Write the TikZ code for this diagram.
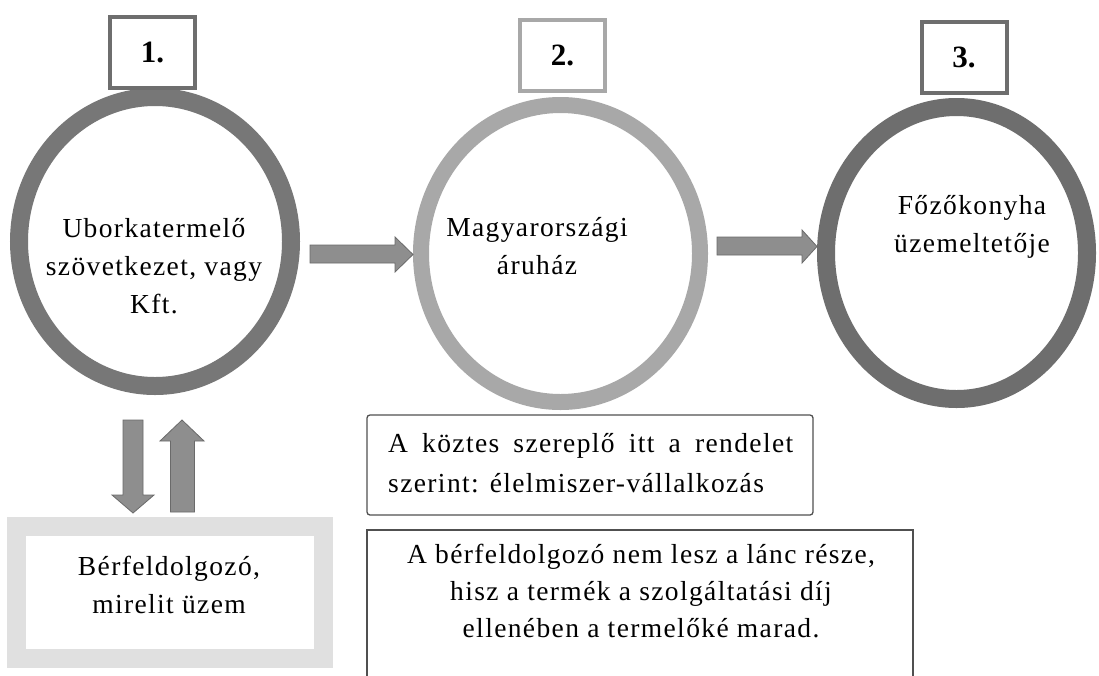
\documentclass[tikz,border=0pt]{standalone}
\usepackage{fontspec}
\setmainfont[LetterSpace=5.0]{Liberation Serif}
\newfontfamily\numfont{Liberation Serif}
\usetikzlibrary{shapes.geometric}
\definecolor{ringA}{HTML}{777777}
\definecolor{ringB}{HTML}{A8A8A8}
\definecolor{ringC}{HTML}{6E6E6E}
\definecolor{arrowfill}{HTML}{8E8E8E}
\definecolor{arrowline}{HTML}{6A6A6A}
\definecolor{lightframe}{HTML}{E0E0E0}
\definecolor{thinline}{HTML}{505050}
\begin{document}
\begin{tikzpicture}[x=1pt,y=-1pt,
  ring/.style={ellipse,draw,inner sep=0pt,outer sep=0pt},
  numbox/.style={draw,line width=4pt,fill=white,minimum width=85pt,minimum height=71pt,inner sep=0pt,font=\numfont\fontsize{31}{36}\selectfont\bfseries},
  txt/.style={align=center,inner sep=0pt,font=\fontsize{27.5}{38}\selectfont},
  blockarrow/.style={fill=arrowfill,draw=arrowline,line width=0.8pt,line join=miter}]
\useasboundingbox (0,0) rectangle (1099,675);
\fill[white] (0,0) rectangle (1099,675);
% rings
\node[ring,draw=ringA,line width=18pt,minimum width=272pt,minimum height=289pt] (c1) at (155,241.5) {};
\node[ring,draw=ringB,line width=16pt,minimum width=279pt,minimum height=297pt] (c2) at (560.5,253.5) {};
\node[ring,draw=ringC,line width=18pt,minimum width=261pt,minimum height=292pt] (c3) at (956.5,253) {};
% number boxes
\node[numbox,draw=ringC] (n1) at (152.5,52.5) {1.};
\node[numbox,draw=ringB] (n2) at (562.5,55) {2.};
\node[numbox,draw=ringC] (n3) at (964,57.5) {3.};
% ring texts
\node[txt] (t1) at (154,266) {Uborkatermelő\\szövetkezet, vagy\\Kft.};
\node[txt] (t2) at (537,246) {Magyarországi\\áruház};
\node[txt] (t3) at (972,227) {Főzőkonyha\\üzemeltetője};
% horizontal arrows
\coordinate (a1s) at (310,254);
\coordinate (a1e) at (413,254.5);
\draw[blockarrow] ([yshift=9pt]a1s) -- (395,245) -- (395,237) -- (a1e) -- (395,272) -- (395,263) -- ([yshift=-9pt]a1s) -- cycle;
\coordinate (a2s) at (717,246);
\coordinate (a2e) at (817,246.5);
\draw[blockarrow] ([yshift=9pt]a2s) -- (802,237) -- (802,230) -- (a2e) -- (802,263) -- (802,255) -- ([yshift=-9pt]a2s) -- cycle;
% vertical arrows
\coordinate (d1s) at (133,420);
\coordinate (d1e) at (133,513);
\draw[blockarrow] ([xshift=-10pt]d1s) -- (123,495) -- (112,495) -- (d1e) -- (154,495) -- (143,495) -- ([xshift=10pt]d1s) -- cycle;
\coordinate (u1s) at (182.5,512);
\coordinate (u1e) at (182,420);
\draw[blockarrow] ([xshift=-12pt]u1s) -- (170.5,441) -- (160,441) -- (u1e) -- (204,441) -- (194.5,441) -- ([xshift=12pt]u1s) -- cycle;
% processor box
\node[draw=lightframe,line width=19pt,minimum width=307pt,minimum height=132pt,inner sep=0pt] (bf) at (170,592.5) {};
\node[txt] (tbf) at (169,585) {Bérfeldolgozó,\\mirelit üzem};
% note boxes
\node[draw=thinline,line width=1.3pt,rounded corners=3pt,minimum width=446pt,minimum height=100pt,inner sep=0pt] (k) at (590,465) {};
\node[anchor=west,align=left,inner sep=0pt,font=\fontsize{27.5}{40}\selectfont] (tk) at (388,463) {\makebox[405pt][s]{A köztes szereplő itt a rendelet}\\szerint: élelmiszer-vállalkozás};
\draw[thinline,line width=1.3pt] (367,700) -- (367,530) -- (913,530) -- (913,700);
\node[txt,font=\fontsize{27.5}{37}\selectfont] (tb) at (641,591) {A bérfeldolgozó nem lesz a lánc része,\\hisz a termék a szolgáltatási díj\\ellenében a termelőké marad.};
\end{tikzpicture}
\end{document}
